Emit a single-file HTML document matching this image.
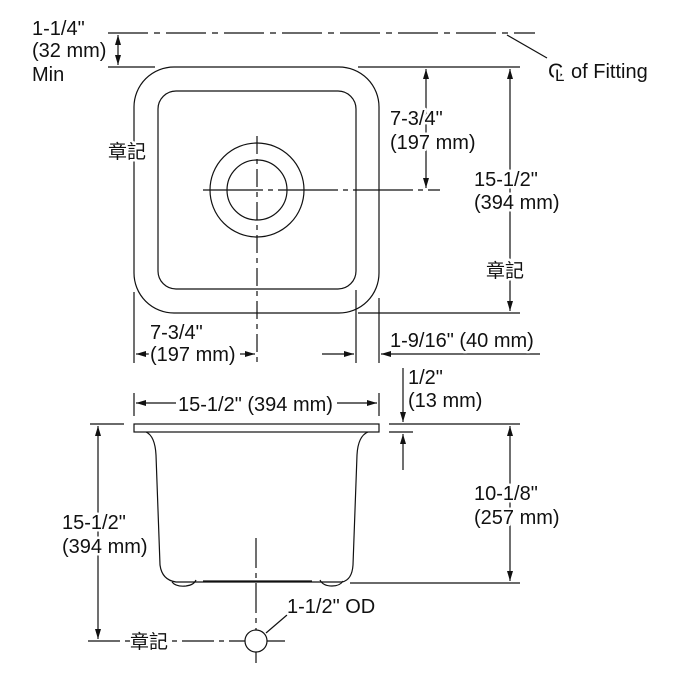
<!DOCTYPE html>
<html><head><meta charset="utf-8"><style>
html,body{margin:0;padding:0;background:#fff;}
svg{display:block;}
text{font-family:"Liberation Sans","Noto Sans CJK TC",sans-serif;font-size:20px;fill:#111;stroke:#fff;stroke-width:5px;paint-order:stroke;stroke-linejoin:round;}
</style></head><body>
<svg width="681" height="673" viewBox="0 0 681 673" xmlns="http://www.w3.org/2000/svg">
<defs>
<marker id="a" viewBox="0 0 10 6" refX="10" refY="3" markerWidth="10" markerHeight="6" orient="auto-start-reverse" markerUnits="userSpaceOnUse"><path d="M0,0 L10,3 L0,6 z" fill="#111"/></marker>
</defs>
<g stroke="#111" stroke-width="1.2" fill="none">
<line x1="108" y1="33" x2="535" y2="33" stroke-dasharray="40,6,6,6"/>
<line x1="108" y1="67" x2="155" y2="67"/>
<line x1="358" y1="67" x2="520" y2="67"/>
<line x1="118" y1="35" x2="118" y2="65" marker-start="url(#a)" marker-end="url(#a)"/>
<line x1="507" y1="35" x2="547" y2="58"/>
<rect x="134" y="67" width="245" height="246" rx="40"/>
<rect x="158" y="91" width="198" height="198" rx="18"/>
<circle cx="257" cy="190" r="47"/>
<circle cx="257" cy="190" r="30"/>
<line x1="257" y1="136" x2="257" y2="362" stroke-dasharray="18,5,5,5"/>
<line x1="203" y1="190" x2="440" y2="190" stroke-dasharray="60,5,5,5"/>
<line x1="426" y1="69" x2="426" y2="188" marker-start="url(#a)" marker-end="url(#a)"/>
<line x1="510" y1="69" x2="510" y2="311" marker-start="url(#a)" marker-end="url(#a)"/>
<line x1="358" y1="313" x2="520" y2="313"/>
<line x1="134" y1="292" x2="134" y2="363"/>
<line x1="356" y1="290" x2="356" y2="363"/>
<line x1="379" y1="298" x2="379" y2="363"/>
<line x1="136" y1="354" x2="151" y2="354" marker-start="url(#a)"/>
<line x1="240" y1="354" x2="255" y2="354" marker-end="url(#a)"/>
<line x1="322" y1="354" x2="354" y2="354" marker-end="url(#a)"/>
<line x1="381" y1="354" x2="540" y2="354" marker-start="url(#a)"/>
<line x1="134" y1="393" x2="134" y2="416"/>
<line x1="379" y1="393" x2="379" y2="416"/>
<line x1="136" y1="403" x2="176" y2="403" marker-start="url(#a)"/>
<line x1="337" y1="403" x2="377" y2="403" marker-end="url(#a)"/>
<rect x="134" y="424" width="245" height="8"/>
<path d="M146,432 Q155,436 156,455 L160,565 Q162,580 176,582 L342,582 Q352,580 353,565 L357,455 Q358,436 368,432"/>
<path d="M172,582 Q176,587 186,586 Q194,585 196,580 M320,580 Q323,586 332,586 Q340,586 343,581 M203,581 L312,581"/>
<line x1="90" y1="424" x2="124" y2="424"/>
<line x1="389" y1="424" x2="520" y2="424"/>
<line x1="389" y1="432" x2="413" y2="432"/>
<line x1="403" y1="368" x2="403" y2="422" marker-end="url(#a)"/>
<line x1="403" y1="470" x2="403" y2="434" marker-end="url(#a)"/>
<line x1="510" y1="426" x2="510" y2="581" marker-start="url(#a)" marker-end="url(#a)"/>
<line x1="350" y1="583" x2="520" y2="583"/>
<line x1="98" y1="426" x2="98" y2="639" marker-start="url(#a)" marker-end="url(#a)"/>
<line x1="88" y1="641" x2="245" y2="641" stroke-dasharray="32,5,5,5"/>
<line x1="267" y1="641" x2="285" y2="641"/>
<circle cx="256" cy="641" r="11"/>
<line x1="256" y1="538" x2="256" y2="630" stroke-dasharray="30,5,5,5"/>
<line x1="256" y1="652" x2="256" y2="663"/>
<line x1="266" y1="633" x2="287" y2="615"/>
</g>
<g>
<text x="32" y="35">1-1/4"</text>
<text x="32" y="57">(32 mm)</text>
<text x="32" y="81">Min</text>
<text x="108" y="158" style="font-size:19px">章記</text>
<text x="548" y="78" style="font-size:21px">C</text>
<text x="555" y="81" style="font-size:17px">L</text>
<text x="571" y="78">of Fitting</text>
<text x="390" y="125">7-3/4"</text>
<text x="390" y="149">(197 mm)</text>
<text x="474" y="186">15-1/2"</text>
<text x="474" y="209">(394 mm)</text>
<text x="486" y="277" style="font-size:19px">章記</text>
<text x="150" y="339">7-3/4"</text>
<text x="150" y="361">(197 mm)</text>
<text x="390" y="347">1-9/16" (40 mm)</text>
<text x="178" y="411" style="stroke-width:0">15-1/2" (394 mm)</text>
<text x="408" y="384">1/2"</text>
<text x="408" y="407">(13 mm)</text>
<text x="474" y="500">10-1/8"</text>
<text x="474" y="524">(257 mm)</text>
<text x="62" y="529">15-1/2"</text>
<text x="62" y="553">(394 mm)</text>
<text x="287" y="613">1-1/2" OD</text>
<text x="130" y="648" style="font-size:19px">章記</text>
</g>
</svg>
</body></html>
